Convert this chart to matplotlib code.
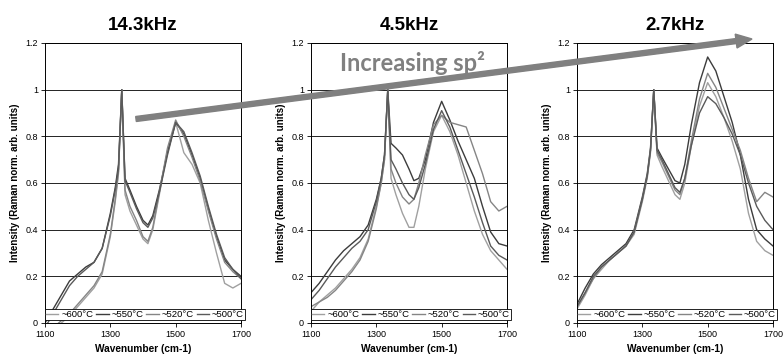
import matplotlib
matplotlib.use("Agg")
import matplotlib.pyplot as plt
from matplotlib.patches import FancyArrow
from matplotlib.transforms import IdentityTransform

plt.rcParams['font.family'] = ['Liberation Sans', 'DejaVu Sans']

wavenumber = [1100, 1125, 1150, 1175, 1200, 1225, 1250, 1275, 1300, 1315, 1325, 1335,
              1345, 1360, 1380, 1400, 1415, 1430, 1450, 1475, 1500, 1525, 1550, 1575,
              1600, 1625, 1650, 1675, 1700]

series_labels = ["~600°C", "~550°C", "~520°C", "~500°C"]
titles = ["14.3kHz", "4.5kHz", "2.7kHz"]

# Panel 1: 14.3 kHz
p1_600 = [-0.05, -0.03, 0.00, 0.03, 0.07, 0.11, 0.15, 0.21, 0.37, 0.52, 0.64, 1.00,
          0.55, 0.48, 0.42, 0.36, 0.34, 0.40, 0.55, 0.74, 0.86, 0.73, 0.68, 0.60,
          0.44, 0.30, 0.17, 0.15, 0.17]
p1_550 = [0.00, 0.06, 0.12, 0.18, 0.21, 0.24, 0.26, 0.32, 0.47, 0.58, 0.68, 1.00,
          0.62, 0.57, 0.50, 0.44, 0.42, 0.46, 0.57, 0.73, 0.86, 0.81, 0.72, 0.62,
          0.49, 0.37, 0.27, 0.23, 0.20]
p1_520 = [-0.04, -0.02, 0.01, 0.04, 0.08, 0.12, 0.16, 0.22, 0.38, 0.53, 0.65, 1.00,
          0.57, 0.50, 0.44, 0.37, 0.35, 0.41, 0.56, 0.75, 0.87, 0.80, 0.71, 0.61,
          0.48, 0.36, 0.26, 0.22, 0.19]
p1_500 = [-0.02, 0.04, 0.10, 0.16, 0.20, 0.23, 0.26, 0.32, 0.46, 0.57, 0.66, 1.00,
          0.61, 0.56, 0.49, 0.43, 0.41, 0.45, 0.56, 0.72, 0.86, 0.82, 0.73, 0.63,
          0.50, 0.38, 0.28, 0.23, 0.19]

# Panel 2: 4.5 kHz
p2_600 = [0.05, 0.09, 0.12, 0.15, 0.19, 0.23, 0.28, 0.36, 0.50, 0.60, 0.70, 1.00,
          0.62, 0.55, 0.47, 0.41, 0.41, 0.50, 0.66, 0.82, 0.89, 0.82, 0.72, 0.60,
          0.48, 0.38, 0.31, 0.27, 0.23]
p2_550 = [0.13, 0.17, 0.22, 0.27, 0.31, 0.34, 0.37, 0.42, 0.53, 0.62, 0.72, 1.00,
          0.77, 0.75, 0.72, 0.66, 0.61, 0.62, 0.70, 0.86, 0.95, 0.87, 0.78, 0.70,
          0.62, 0.50, 0.39, 0.34, 0.33]
p2_520 = [0.07, 0.09, 0.11, 0.14, 0.18, 0.22, 0.27, 0.35, 0.49, 0.60, 0.70, 1.00,
          0.66, 0.60, 0.54, 0.51, 0.53, 0.60, 0.72, 0.85, 0.89, 0.86, 0.85, 0.84,
          0.74, 0.64, 0.52, 0.48, 0.50]
p2_500 = [0.10, 0.14, 0.19, 0.24, 0.28, 0.32, 0.35, 0.40, 0.52, 0.62, 0.72, 1.00,
          0.70, 0.66, 0.60, 0.55, 0.53, 0.58, 0.68, 0.83, 0.91, 0.84, 0.74, 0.64,
          0.54, 0.43, 0.33, 0.29, 0.27]

# Panel 3: 2.7 kHz
p3_600 = [0.06, 0.12, 0.19, 0.23, 0.27, 0.30, 0.33, 0.38, 0.52, 0.62, 0.73, 1.00,
          0.72, 0.67, 0.61, 0.55, 0.53, 0.60, 0.76, 0.93, 1.03, 0.97, 0.88, 0.78,
          0.66, 0.47, 0.35, 0.31, 0.29]
p3_550 = [0.08, 0.15, 0.21, 0.25, 0.28, 0.31, 0.34, 0.40, 0.54, 0.64, 0.75, 1.00,
          0.75, 0.71, 0.66, 0.61, 0.60, 0.68, 0.85, 1.03, 1.14, 1.08, 0.97, 0.86,
          0.72, 0.53, 0.40, 0.36, 0.33]
p3_520 = [0.07, 0.13, 0.19, 0.24, 0.27, 0.30, 0.33, 0.39, 0.53, 0.63, 0.74, 1.00,
          0.73, 0.69, 0.63, 0.57, 0.55, 0.62, 0.78, 0.96, 1.07, 1.01, 0.92, 0.83,
          0.74, 0.62, 0.52, 0.56, 0.54]
p3_500 = [0.07, 0.13, 0.20, 0.24, 0.27, 0.30, 0.33, 0.39, 0.53, 0.63, 0.74, 1.00,
          0.74, 0.70, 0.64, 0.58, 0.56, 0.62, 0.76, 0.90, 0.97, 0.94, 0.88, 0.81,
          0.72, 0.60, 0.50, 0.44, 0.40]

panels = [
    [p1_600, p1_550, p1_520, p1_500],
    [p2_600, p2_550, p2_520, p2_500],
    [p3_600, p3_550, p3_520, p3_500],
]
line_colors = ["#a0a0a0", "#3c3c3c", "#858585", "#5a5a5a"]

fig = plt.figure(figsize=(7.83, 3.62), dpi=100)
lefts = [45 / 783, 311 / 783, 577 / 783]
width = 196 / 783
bottom = 39 / 362
height = 280 / 362

for i, (left, data, title) in enumerate(zip(lefts, panels, titles)):
    ax = fig.add_axes([left, bottom, width, height])
    for ys, lab, col in zip(data, series_labels, line_colors):
        ax.plot(wavenumber, ys, color=col, lw=1.0, label=lab)
    ax.set_xlim(1100, 1700)
    ax.set_ylim(0, 1.2)
    ax.set_xticks([1100, 1300, 1500, 1700])
    ax.set_yticks([0, 0.2, 0.4, 0.6, 0.8, 1.0, 1.2])
    ax.set_yticklabels(["0", "0.2", "0.4", "0.6", "0.8", "1", "1.2"])
    ax.yaxis.grid(True, color="black", lw=0.6)
    ax.set_axisbelow(True)
    ax.tick_params(direction="out", length=3, width=0.6, labelsize=6.5, pad=2)
    for sp in ax.spines.values():
        sp.set_linewidth(0.7)
    ax.set_xlabel("Wavenumber (cm-1)", fontsize=7.3, fontweight="bold", labelpad=4)
    ax.set_ylabel("Intensity (Raman norm. arb. units)", fontsize=7.0,
                  fontweight="bold", labelpad=4)
    ax.set_title(title, fontsize=13.5, fontweight="bold", pad=9)
    leg = ax.legend(loc="lower left", bbox_to_anchor=(0.0, 0.01, 1.02, 0.045),
                    mode="expand", ncol=4, fontsize=6.8, handlelength=1.3,
                    handletextpad=0.3, columnspacing=0.3, borderpad=0.12,
                    borderaxespad=0.0, fancybox=False, framealpha=1,
                    edgecolor="black")
    leg.get_frame().set_linewidth(0.6)
    leg.set_zorder(5)

# Arrow in figure pixel coordinates
x0, y0 = 136, 362 - 119
x1, y1 = 752, 362 - 39
arrow = FancyArrow(x0, y0, x1 - x0, y1 - y0, width=5, head_width=14,
                   head_length=16, length_includes_head=True,
                   color="#808080", transform=IdentityTransform(), zorder=10)
fig.add_artist(arrow)

fig.text(413 / 783, 1 - 63 / 362, "Increasing sp²", fontsize=17, fontweight="bold",
         color="#808080", ha="center", va="center", family=["Lato", "DejaVu Sans"])

fig.savefig("out.png", dpi=100)
